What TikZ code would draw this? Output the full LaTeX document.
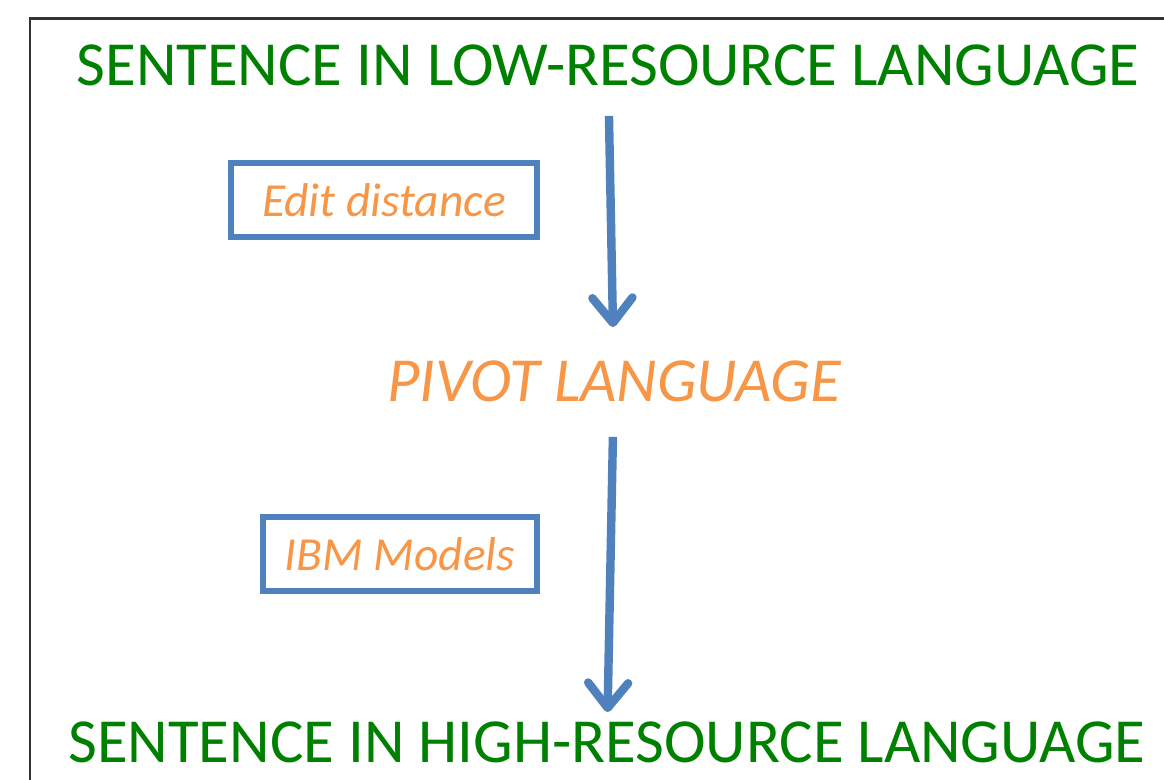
\documentclass[tikz,border=0pt]{standalone}
\usepackage{fontspec}
\setmainfont{Carlito}
\usetikzlibrary{arrows.meta,positioning}
\definecolor{darkgreen}{RGB}{0,128,0}
\definecolor{accentorange}{RGB}{247,150,70}
\definecolor{accentblue}{RGB}{79,129,189}

\begin{document}
\begin{tikzpicture}[x=0.02cm,y=-0.02cm,>={Straight Barb[round,length=0.5cm,width=0.8cm]},
                        sentence node/.style={inner sep=0pt,text=darkgreen,font=\fontsize{35.7}{40}\selectfont},
                        pivot node/.style={inner sep=0pt,text=accentorange,font=\fontsize{35.7}{40}\selectfont\itshape},
                        method node/.style={draw=accentblue,line width=3.2pt,text=accentorange,
                          minimum height=1.48cm,font=\fontsize{27}{32}\selectfont\itshape},
                        flow/.style={draw=accentblue,line width=4.8pt,->}]

      \useasboundingbox (0,0) rectangle (1164,779);
      \draw[line width=1.7pt,draw=black!80] (30,18) rectangle (1200,820);

      \node[sentence node] (low) at (608,65) {SENTENCE IN LOW-RESOURCE LANGUAGE};
      \node[pivot node] (pivot) at (614,381) {PIVOT LANGUAGE};
      \node[sentence node] (high) at (607,742) {SENTENCE IN HIGH-RESOURCE LANGUAGE};
      \node[method node,minimum width=6.12cm] (edit) at (384,200) {Edit distance};
      \node[method node,minimum width=5.48cm] (ibm) at (400,554) {IBM Models};
      \path[flow]
        (low) edge[shorten <=0.6cm,shorten >=0.66cm] (pivot)
        (pivot) edge[shorten <=0.7cm,shorten >=0.18cm] (high);
    \end{tikzpicture}
\end{document}
